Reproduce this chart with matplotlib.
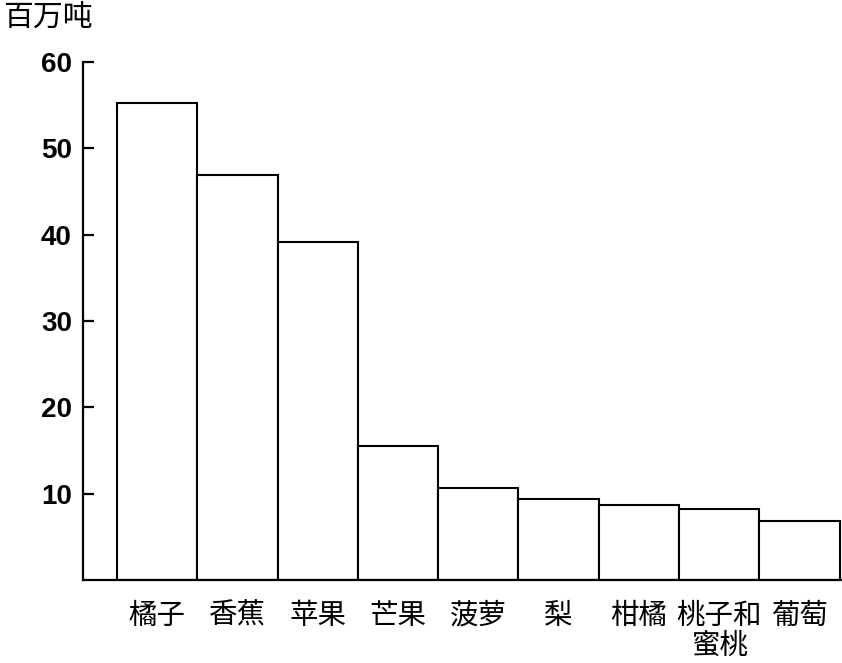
import matplotlib
matplotlib.use("Agg")
import matplotlib.pyplot as plt

plt.rcParams['font.family'] = ['Noto Sans CJK SC', 'DejaVu Sans']

# fruits and output (million tonnes)
fruits = ["橘子", "香蕉", "苹果", "芒果", "菠萝", "梨", "柑橘", "桃子和\n蜜桃", "葡萄"]
output = [55.3, 46.9, 39.2, 15.5, 10.7, 9.4, 8.7, 8.2, 6.8]
yticks = [10, 20, 30, 40, 50, 60]

fig = plt.figure(figsize=(8.42, 6.63), dpi=100)
ax = fig.add_axes([83 / 842, 1 - 580 / 663, 1 - 83 / 842, (580 - 62) / 663])

xs = list(range(len(fruits)))
ax.bar(xs, output, width=1.0, color="white", edgecolor="black", linewidth=1.5)

ax.set_xlim(-0.923, 8.53)
ax.set_ylim(0, 60)

for s in ["top", "right"]:
    ax.spines[s].set_visible(False)
for s in ["left", "bottom"]:
    ax.spines[s].set_linewidth(1.6)

ax.set_yticks(yticks)
ax.set_yticklabels([str(v) for v in yticks], fontfamily="Liberation Sans",
                   fontweight="bold", fontsize=20)
ax.tick_params(axis="y", direction="in", length=8, width=1.6, pad=8)

ax.set_xticks(xs)
ax.set_xticklabels(fruits, fontsize=20.5, fontweight="medium", linespacing=1.0, va="top")
ax.tick_params(axis="x", length=0, pad=15)

fig.text(3 / 842, 1 - 17 / 663, "百万吨", fontsize=21.5, fontweight="medium",
         ha="left", va="center")

fig.savefig("out.png", dpi=100)
